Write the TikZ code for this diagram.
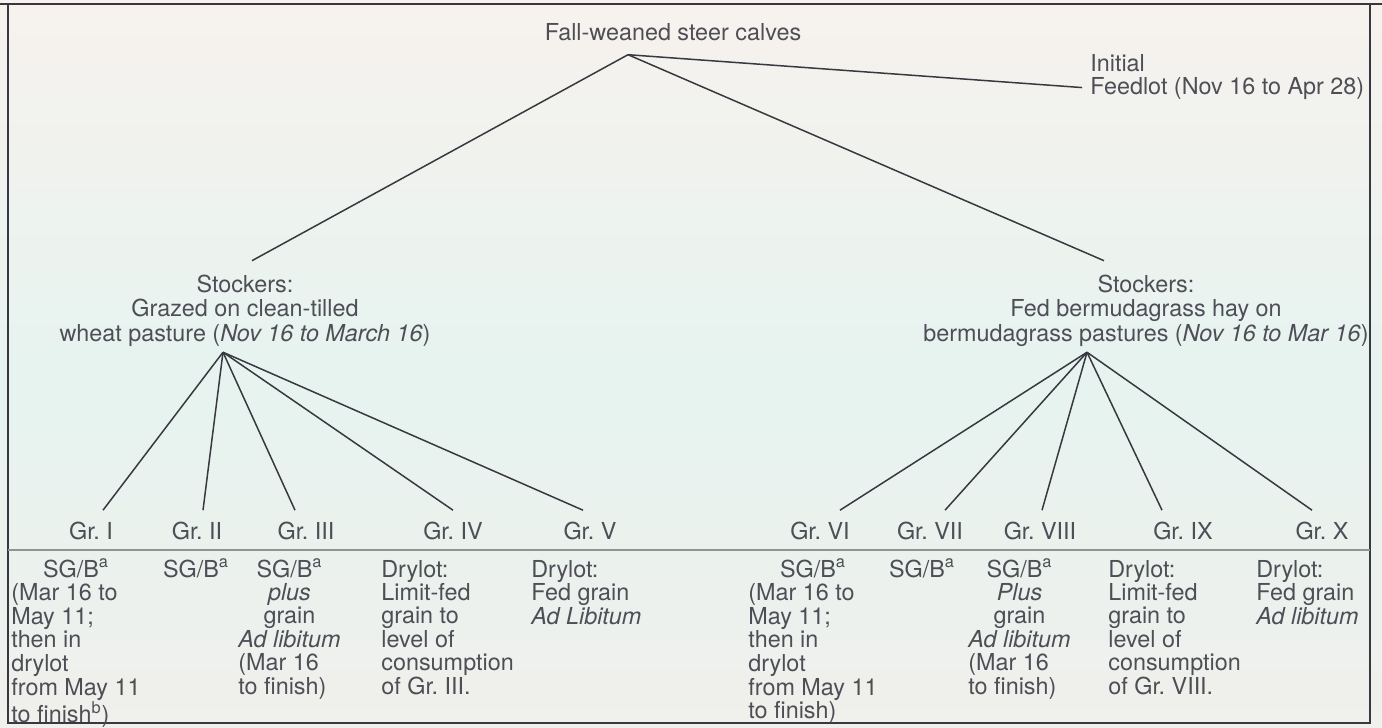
\documentclass[tikz,border=0pt]{standalone}
\usepackage{fontspec}
\setmainfont{TeX Gyre Heros}
\usetikzlibrary{calc}
\frenchspacing
\definecolor{ink}{RGB}{78,78,86}
\definecolor{rule}{RGB}{56,56,64}
\definecolor{paperA}{RGB}{247,242,238}
\definecolor{paperB}{RGB}{230,243,239}
\definecolor{paperC}{RGB}{240,240,236}
% text blocks: left-aligned tabular hanging from its first baseline
\newcommand\blockof[2][l]{\begin{tabular}[t]{@{}#1@{}}#2\end{tabular}}
\newcommand\ctr[1]{\multicolumn{1}{@{}c@{}}{#1}}
\newcommand\sgb{SG/B\textsuperscript{a}}
\begin{document}
\begin{tikzpicture}[x=0.02cm,y=-0.02cm,
  txt/.style={font=\fontsize{13.3pt}{12.5pt}\selectfont\frenchspacing, text=ink, inner sep=0pt},
  stock/.style={txt, font=\fontsize{13.3pt}{14.2pt}\selectfont\frenchspacing},
  feedtxt/.style={txt, font=\fontsize{13.3pt}{12.5pt}\selectfont\frenchspacing},
  wire/.style={draw=rule, line width=0.85pt}]
% paper
\fill[top color=paperA,bottom color=paperB] (0,0) rectangle (1382,380);
\fill[top color=paperB,bottom color=paperC] (0,380) rectangle (1382,727);
\useasboundingbox (0,0) rectangle (1382,727);
% frame and rules
\draw[rule, line width=0.8pt] (8,4) rectangle (1370,723);
\draw[rule, line width=1.7pt] (0,4) -- (1382,4);
\draw[rule!55, line width=0.8pt] (8,550) -- (1370,550);

% top level
\node[txt, anchor=base] (root) at (673,40) {Fall-weaned steer calves};
\node[feedtxt, anchor=base west] (feed) at (1090,71)
  {\blockof{Initial\\Feedlot (Nov 16 to Apr 28)}};

% stocker phases
\node[stock, anchor=base] (sL) at (245,292)
  {\blockof[c]{Stockers:\\Grazed on clean-tilled\\wheat pasture (\textit{Nov 16 to March 16})}};
\node[stock, anchor=base] (sR) at (1146,292)
  {\blockof[c]{Stockers:\\Fed bermudagrass hay on\\bermudagrass pastures (\textit{Nov 16 to Mar 16})}};

% group labels
\node[txt, anchor=base] (g1) at (91,539) {Gr. I};
\node[txt, anchor=base] (g2) at (197,539) {Gr. II};
\node[txt, anchor=base] (g3) at (306,539) {Gr. III};
\node[txt, anchor=base] (g4) at (453,539) {Gr. IV};
\node[txt, anchor=base] (g5) at (590,539) {Gr. V};
\node[txt, anchor=base] (g6) at (820,539) {Gr. VI};
\node[txt, anchor=base] (g7) at (930,539) {Gr. VII};
\node[txt, anchor=base] (g8) at (1040,539) {Gr. VIII};
\node[txt, anchor=base] (g9) at (1183,539) {Gr. IX};
\node[txt, anchor=base] (g10) at (1322,539) {Gr. X};

% treatment descriptions
\node[txt, anchor=base west] (d1) at (11,577)
  {\blockof{\ctr{\sgb}\\(Mar 16 to\\May 11;\\then in\\drylot\\from May 11\\to finish\textsuperscript{b})}};
\node[txt, anchor=base] (d2) at (196,577) {\sgb};
\node[txt, anchor=base west] (d3) at (238,577)
  {\blockof{\ctr{\sgb}\\\ctr{\textit{plus}}\\\ctr{grain}\\\textit{Ad libitum}\\(Mar 16\\to finish)}};
\node[txt, anchor=base west] (d4) at (381,577)
  {\blockof{Drylot:\\Limit-fed\\grain to\\level of\\consumption\\of Gr. III.}};
\node[txt, anchor=base west] (d5) at (531,577)
  {\blockof{Drylot:\\Fed grain\\\textit{Ad Libitum}}};
\node[txt, anchor=base west] (d6) at (748,577)
  {\blockof{\ctr{\sgb}\\(Mar 16 to\\May 11;\\then in\\drylot\\from May 11\\to finish)}};
\node[txt, anchor=base] (d7) at (922,577) {\sgb};
\node[txt, anchor=base west] (d8) at (968,577)
  {\blockof{\ctr{\sgb}\\\ctr{\textit{Plus}}\\\ctr{grain}\\\textit{Ad libitum}\\(Mar 16\\to finish)}};
\node[txt, anchor=base west] (d9) at (1108,577)
  {\blockof{Drylot:\\Limit-fed\\grain to\\level of\\consumption\\of Gr. VIII.}};
\node[txt, anchor=base west] (d10) at (1256,577)
  {\blockof{Drylot:\\Fed grain\\\textit{Ad libitum}}};

% branch points
\coordinate (rootTip) at ($(root.south)+(-45,14)$);
\coordinate (sLTip) at ($(sL.south)+(-22,2.5)$);
\coordinate (sRTip) at ($(sR.south)+(-59,2.5)$);

% connectors
\draw[wire] (rootTip) -- ($(feed.south west)+(-8,-14)$);
\draw[wire] (rootTip) -- ($(sL.north)+(7,-13.5)$);
\draw[wire] (rootTip) -- ($(sR.north)+(-42,-13.5)$);

\draw[wire] (sLTip) -- ($(g1.north)+(12,-11)$);
\draw[wire] (sLTip) -- ($(g2.north)+(6,-11)$);
\draw[wire] (sLTip) -- ($(g3.north)+(-11,-11)$);
\draw[wire] (sLTip) -- ($(g4.north)+(0,-11)$);
\draw[wire] (sLTip) -- ($(g5.north)+(-7,-11)$);

\draw[wire] (sRTip) -- ($(g6.north)+(20,-11)$);
\draw[wire] (sRTip) -- ($(g7.north)+(15,-11)$);
\draw[wire] (sRTip) -- ($(g8.north)+(2,-11)$);
\draw[wire] (sRTip) -- ($(g9.north)+(-21,-11)$);
\draw[wire] (sRTip) -- ($(g10.north)+(-10,-11)$);
\end{tikzpicture}
\end{document}
